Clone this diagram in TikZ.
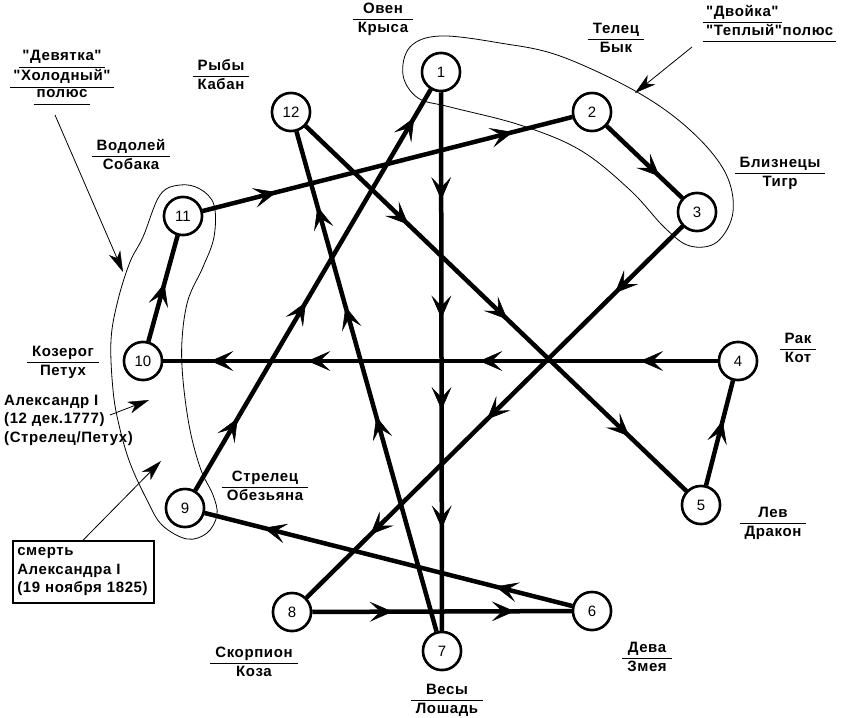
\documentclass[tikz,border=0pt]{standalone}
\usepackage{fontspec}
\setmainfont{Liberation Sans}[Ligatures=TeXOff]
\newfontfamily\lblfam{Liberation Sans}[Ligatures=TeXOff, LetterSpace=4]
\usetikzlibrary{arrows.meta,decorations.markings}
\newcommand\lblfont{\lblfam\fontsize{15}{18.5}\selectfont\bfseries}
\newcommand\numfont{\fontsize{15}{17}\selectfont}
\newcommand\frc[2]{\begin{tabular}{@{\hspace{5pt}}c@{\hspace{5pt}}}#1\\\hline #2\end{tabular}}
\newcommand\ulx[1]{\begin{tabular}{@{\hspace{3pt}}c@{\hspace{3pt}}}#1\\\hline\end{tabular}}
\setlength\arrayrulewidth{0.8pt}
\tikzset{
  bigtip/.tip={Stealth[length=23pt,width=20pt,inset=10.5pt,line width=0.6pt]},
  smalltip/.tip={Stealth[length=21pt,width=12pt,inset=6pt,line width=0.4pt]},
  sign/.style={circle, draw, fill=white, line width=2.5pt, minimum size=38pt, inner sep=0pt, font=\numfont},
  link/.style={line width=4.5pt},
  ar/.style={postaction={decorate,decoration={markings,mark=at position #1 with {\arrow{bigtip}}}}},
  loopline/.style={line width=0.8pt},
  pointer/.style={line width=0.8pt, -smalltip},
  lbl/.style={font=\lblfont, inner sep=0pt},
}
\begin{document}
\begin{tikzpicture}[x=1pt,y=-1pt]
\useasboundingbox (0,0) rectangle (861,717);

% loops
\draw[loopline] plot[smooth cycle, tension=0.6] coordinates {
 (403,75) (410,47) (440,36) (500,43) (560,56) (637,92) (690,130) (725,172)
 (733,212) (717,242) (690,246) (665,228) (630,190) (580,150) (520,125) (450,107) (418,98)};
\draw[loopline] plot[smooth cycle, tension=0.6] coordinates {
 (180,185) (160,195) (143,237) (130,262) (118,300) (111,340) (113,390) (119,425)
 (130,463) (147,500) (162,525) (187,539) (207,533) (217,515) (213,495) (201,470)
 (190,430) (183,380) (182,340) (188,300) (203,267) (214,237) (214,205) (200,189)};

% signs
\node[sign] (n1) at (441,72) {1};
\node[sign] (n2) at (592,112) {2};
\node[sign] (n3) at (697,212) {3};
\node[sign] (n4) at (738,361) {4};
\node[sign] (n5) at (701,505) {5};
\node[sign] (n6) at (592,611) {6};
\node[sign] (n7) at (442,651) {7};
\node[sign] (n8) at (292,612) {8};
\node[sign] (n9) at (185,508) {9};
\node[sign] (n10) at (143,361) {10};
\node[sign] (n11) at (183,216) {11};
\node[sign] (n12) at (291,112) {12};

% links
\draw[link, ar=0.2, ar=0.42, ar=0.59, ar=0.81] (n1) -- (n7);
\draw[link, ar=0.2, ar=0.84] (n11) -- (n2);
\draw[link, ar=0.7] (n2) -- (n3);
\draw[link, ar=0.18, ar=0.52, ar=0.83] (n3) -- (n8);
\draw[link, ar=0.27, ar=0.53, ar=0.85] (n12) -- (n5);
\draw[link, ar=0.14, ar=0.43, ar=0.74, ar=0.915] (n4) -- (n10);
\draw[link, ar=0.62] (n5) -- (n4);
\draw[link, ar=0.21, ar=0.84] (n6) -- (n9);
\draw[link, ar=0.43, ar=0.65, ar=0.85] (n7) -- (n12);
\draw[link, ar=0.31, ar=0.78] (n8) -- (n6);
\draw[link, ar=0.18, ar=0.47, ar=0.93] (n9) -- (n1);
\draw[link, ar=0.55] (n10) -- (n11);

% redraw signs on top of the links
\foreach \p/\t in {{(441,72)}/1, {(592,112)}/2, {(697,212)}/3, {(738,361)}/4,
  {(701,505)}/5, {(592,611)}/6, {(442,651)}/7, {(292,612)}/8,
  {(185,508)}/9, {(143,361)}/10, {(183,216)}/11, {(291,112)}/12}
  {\node[sign] at \p {\t};}

% zodiac labels
\node[lbl] (lOven) at (383,19) {\frc{Овен}{Крыса}};
\node[lbl] (lTelec) at (616,39) {\frc{Телец}{Бык}};
\node[lbl] (lRyby) at (221,76) {\frc{Рыбы}{Кабан}};
\node[lbl] (lVodol) at (131,156) {\frc{Водолей}{Собака}};
\node[lbl] (lBlizn) at (780,173) {\frc{Близнецы}{Тигр}};
\node[lbl] (lRak) at (798,349) {\frc{Рак}{Кот}};
\node[lbl] (lKoz) at (63,362) {\frc{Козерог}{Петух}};
\node[lbl] (lStrel) at (265,487) {\frc{Стрелец}{Обезьяна}};
\node[lbl] (lLev) at (773,523) {\frc{Лев}{Дракон}};
\node[lbl] (lDeva) at (647,658) {\frc{Дева}{Змея}};
\node[lbl] (lVesy) at (447,700) {\frc{Весы}{Лошадь}};
\node[lbl] (lSkorp) at (254,663) {\frc{Скорпион}{Коза}};

% poles
\node[lbl, anchor=south west] (pw1) at (703,23.5) {\ulx{"Двойка"}};
\node[lbl, anchor=south west] (pw2) at (703,42.5) {\ulx{"Теплый"полюс}};
\node[lbl, anchor=south] (pc1) at (62,67.5) {\ulx{"Девятка"}};
\node[lbl, anchor=south] (pc2) at (62,87.5) {\ulx{"Холодный"}};
\node[lbl, anchor=south] (pc3) at (62,104.5) {\ulx{полюс}};

% notes
\node[lbl, anchor=west, align=left] (alex) at (4,420) {Александр I\\(12 дек.1777)\\(Стрелец/Петух)};
\node[lbl, draw, line width=1.5pt, anchor=north west, align=left, text width=132pt,
  inner xsep=4.5pt, inner ysep=3pt, minimum height=62pt] (death) at (12,540)
  {смерть\\Александра I\\(19 ноября 1825)};

% pointers
\coordinate (wStart) at (692,47);
\coordinate (wTip) at (635,93);
\coordinate (cStart) at (55,115);
\coordinate (cTip) at (123,272);
\coordinate (aStart) at (110,415);
\coordinate (aTip) at (149,400);
\coordinate (dTip) at (161,461);
\draw[pointer] (wStart) -- (wTip);
\draw[pointer] (cStart) -- (cTip);
\draw[pointer] (aStart) -- (aTip);
\draw[pointer] (death.north) -- (dTip);
\end{tikzpicture}
\end{document}
